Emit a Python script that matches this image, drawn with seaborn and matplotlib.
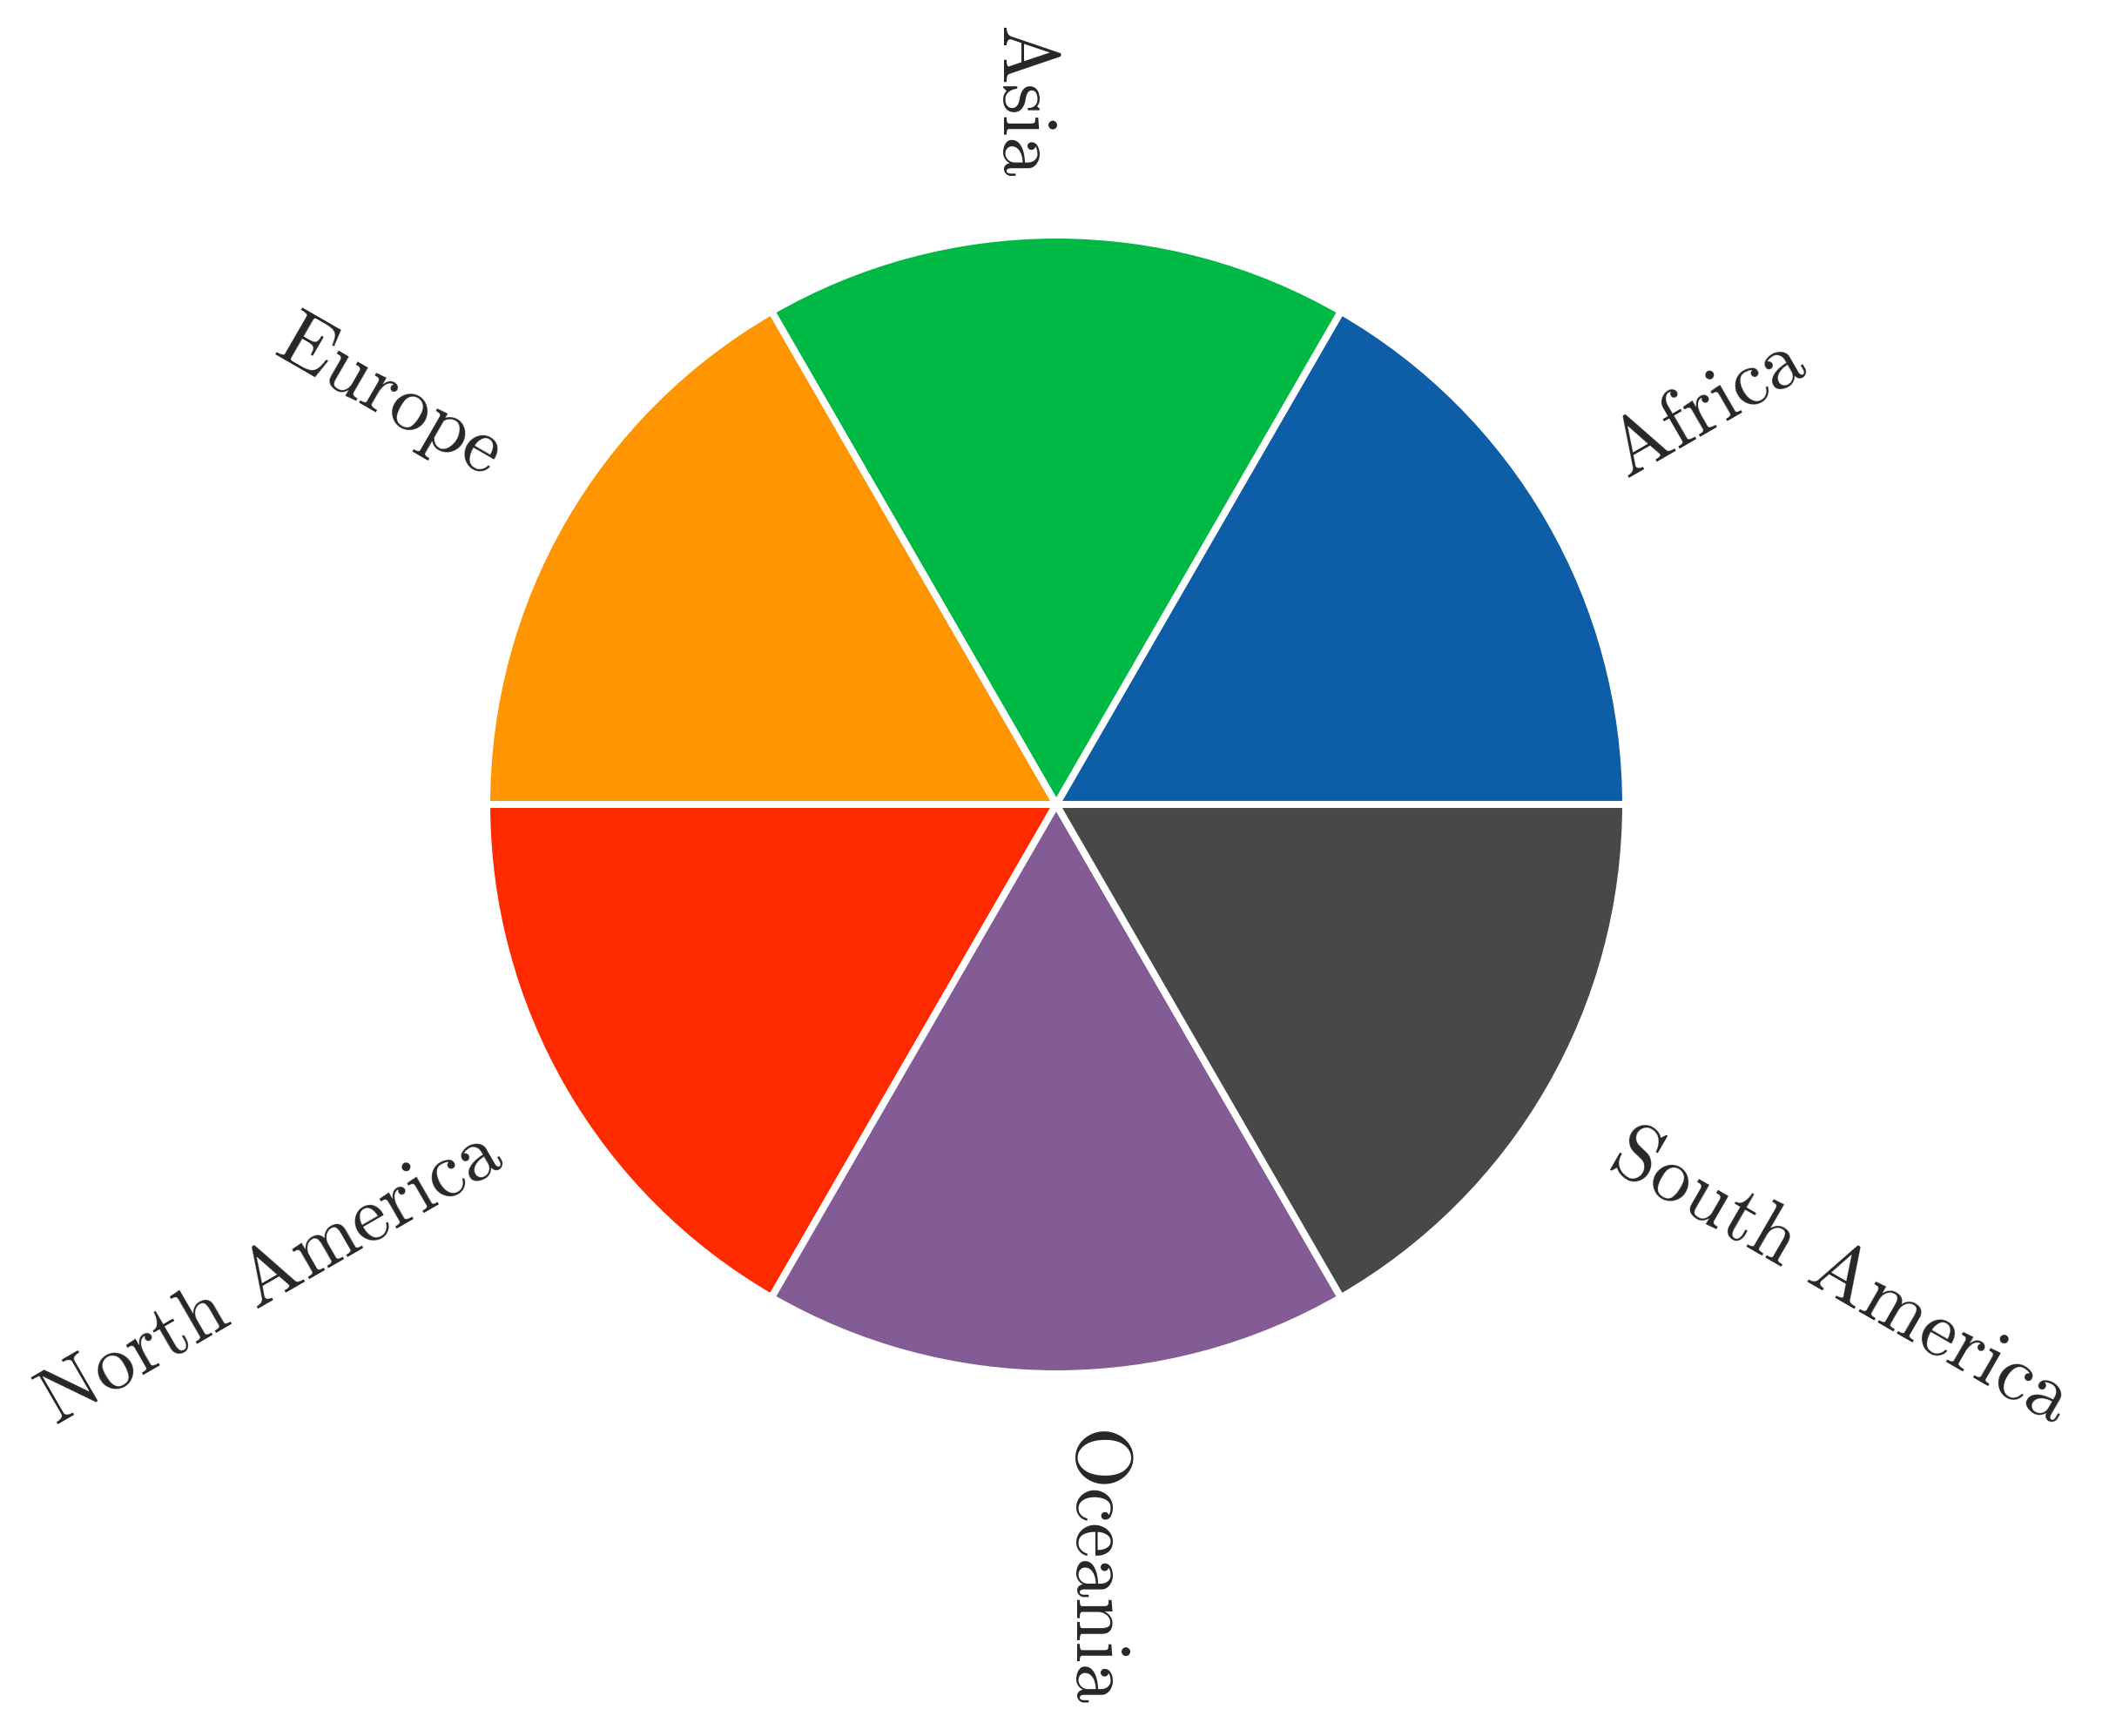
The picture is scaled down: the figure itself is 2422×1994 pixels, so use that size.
import matplotlib
matplotlib.use("Agg")
import matplotlib.pyplot as plt
import seaborn as sns

continents = ["Africa", "Asia", "Europe", "North America", "Oceania", "South America"]
shares = [1, 1, 1, 1, 1, 1]
colors = ["#0E5EA7", "#00B844", "#FF9500", "#FF2A00", "#845C95", "#484848"]

sns.set_theme(style="white")
plt.rcParams["font.family"] = ["cmr10", "DejaVu Serif"]
plt.rcParams["mathtext.fontset"] = "cm"
plt.rcParams["axes.unicode_minus"] = False
plt.rcParams["axes.formatter.use_mathtext"] = True

W, H, DPI = 2422, 1994, 200
fig = plt.figure(figsize=(W / DPI, H / DPI), dpi=DPI)
cx, cy, r = 1213, 1994 - 924, 654
half = 1.25 * r
ax = fig.add_axes([(cx - half) / W, (cy - half) / H, 2 * half / W, 2 * half / H])

wedges, texts = ax.pie(
    shares,
    labels=continents,
    colors=colors,
    startangle=0,
    counterclock=True,
    rotatelabels=True,
    labeldistance=1.1,
    wedgeprops=dict(edgecolor="white", linewidth=2.9),
    textprops=dict(fontsize=32.75, color="#262626"),
)
ax.set_aspect("equal")
fig.savefig("out.png", dpi=DPI, facecolor="white")
